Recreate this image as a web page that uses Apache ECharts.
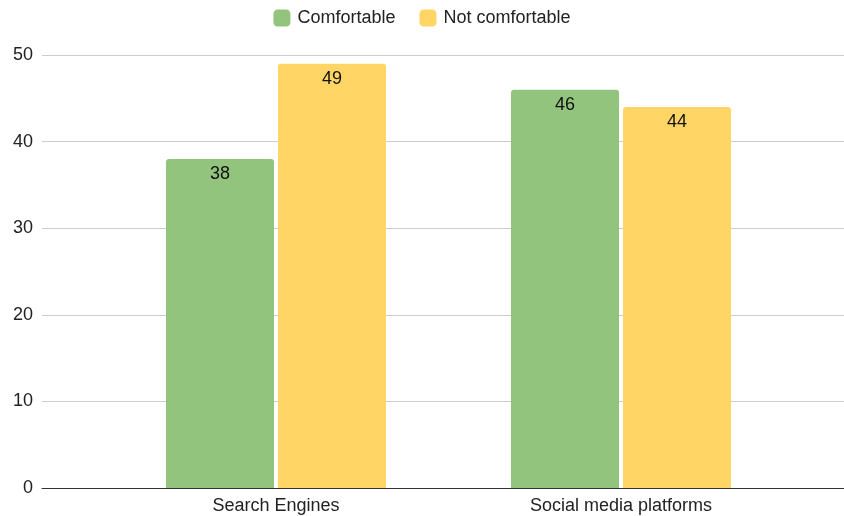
<!DOCTYPE html>
<html>
<head>
<meta charset="utf-8">
<script src="https://cdn.jsdelivr.net/npm/echarts@6/dist/echarts.min.js"></script>
<style>
html,body{margin:0;padding:0;background:#fff;}
#chart{width:844px;height:516px;}
</style>
</head>
<body>
<div id="chart"></div>
<script>
var categories = ['Search Engines', 'Social media platforms'];
var comfortable = [38, 46];
var notComfortable = [49, 44];
var seriesNames = ['Comfortable', 'Not comfortable'];
var yTicks = {min: 0, max: 50, interval: 10};

var FONT = 'Liberation Sans, Arial, sans-serif';
var chart = echarts.init(document.getElementById('chart'), null, {renderer: 'canvas'});
var labelStyle = {show: true, position: 'insideTop', distance: 6, color: '#111', fontSize: 18, fontFamily: FONT};
chart.setOption({
  animation: false,
  legend: {
    top: 9, left: 'center', padding: 0,
    itemWidth: 17, itemHeight: 17, itemGap: 24,
    icon: 'roundRect',
    textStyle: {fontSize: 18, color: '#222', fontFamily: FONT, padding: [0, 0, 0, 2]},
    data: seriesNames
  },
  grid: [
    {left: 42, right: 0, top: 55, bottom: 28},
    {left: 103.5, right: 50.5, top: 55, bottom: 28}
  ],
  xAxis: [
    {gridIndex: 0, type: 'category', data: categories, axisTick: {show: false}, axisLabel: {show: false},
     axisLine: {lineStyle: {color: '#333', width: 1}}},
    {gridIndex: 1, type: 'category', data: categories, axisTick: {show: false}, axisLine: {show: false},
     axisLabel: {color: '#222', fontSize: 18, fontFamily: FONT, margin: 9}}
  ],
  yAxis: [
    {gridIndex: 0, type: 'value', min: yTicks.min, max: yTicks.max, interval: yTicks.interval,
     axisLine: {show: false}, axisTick: {show: false},
     axisLabel: {color: '#222', fontSize: 18, fontFamily: FONT, margin: 9},
     splitLine: {lineStyle: {color: '#cccccc', width: 1}}},
    {gridIndex: 1, type: 'value', min: yTicks.min, max: yTicks.max, interval: yTicks.interval,
     show: false, splitLine: {show: false}}
  ],
  series: [
    {name: seriesNames[0], type: 'bar', xAxisIndex: 1, yAxisIndex: 1, data: comfortable,
     barWidth: 108, barGap: '3.7%', itemStyle: {color: '#93c47d', borderRadius: [3, 3, 0, 0]}, label: labelStyle},
    {name: seriesNames[1], type: 'bar', xAxisIndex: 1, yAxisIndex: 1, data: notComfortable,
     barWidth: 108, barGap: '3.7%', itemStyle: {color: '#ffd666', borderRadius: [3, 3, 0, 0]}, label: labelStyle}
  ]
});
</script>
</body>
</html>
